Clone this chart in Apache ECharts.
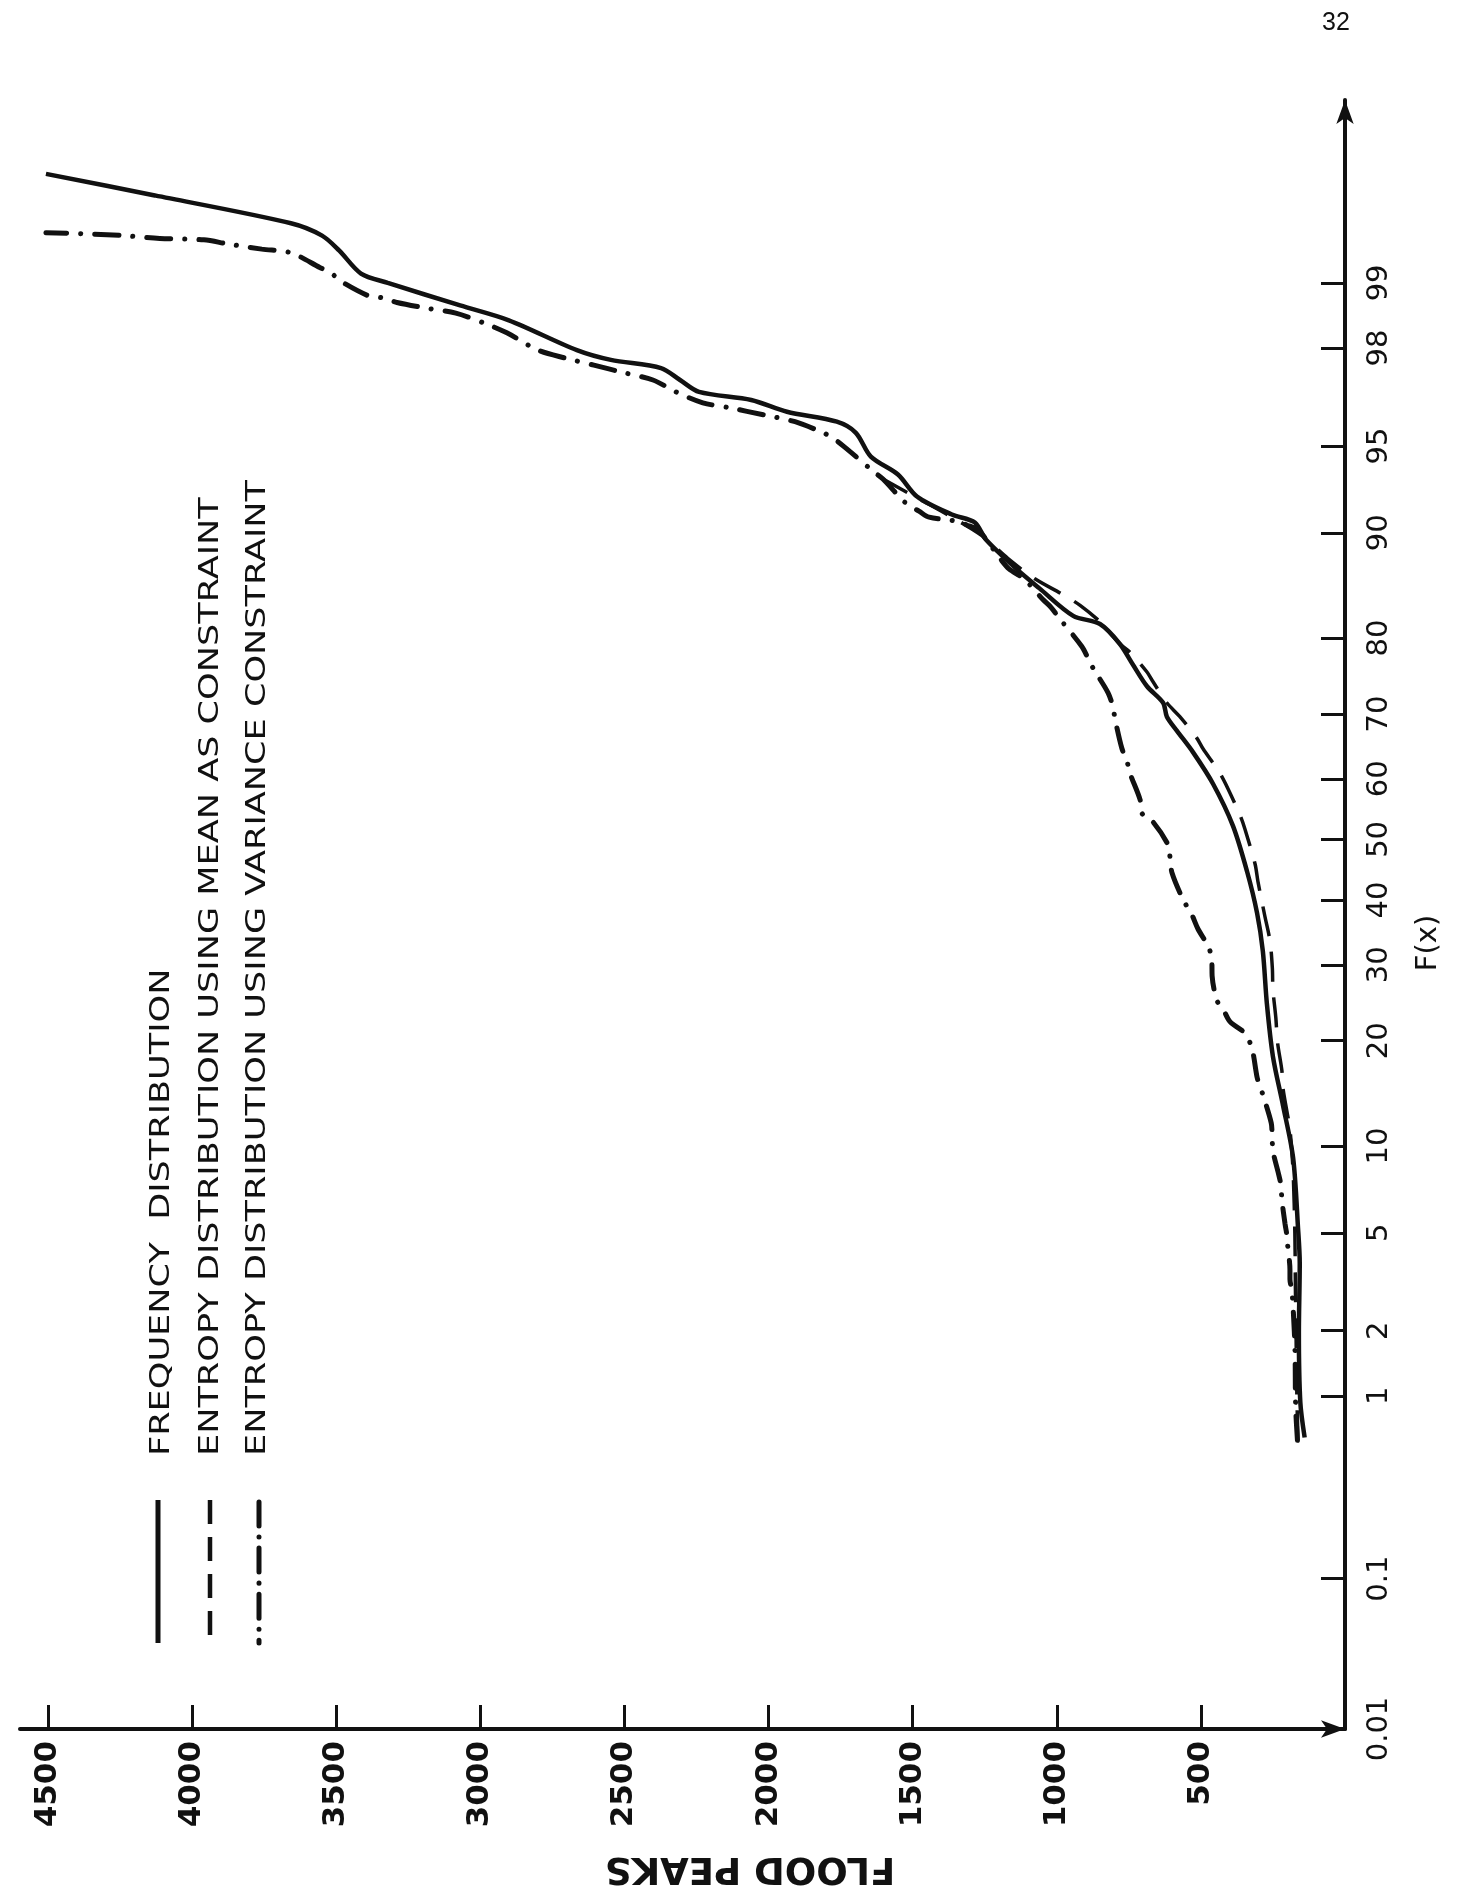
<!DOCTYPE html>
<html>
<head>
<meta charset="utf-8">
<title>Flood peaks vs F(x)</title>
<script src="https://cdn.jsdelivr.net/npm/echarts@6/dist/echarts.min.js"></script>
<style>
  html, body { margin: 0; padding: 0; background: #ffffff; }
  #chart { width: 1462px; height: 1894px; }
</style>
</head>
<body>
<div id="chart"></div>
<script>
// Probability-scale ticks for F(x), in percent
const probTicks = [0.01, 0.1, 1, 2, 5, 10, 20, 30, 40, 50, 60, 70, 80, 90, 95, 98, 99];
// Flood peak ticks
const peakTicks = [500, 1000, 1500, 2000, 2500, 3000, 3500, 4000, 4500];

// Frequency distribution: F(x) in percent and flood peak
const freqProb = [0.62, 0.93, 1.96, 3.83, 5.22, 9.16, 13.3, 18.2, 24.6, 32, 37.9, 44.7, 52.3, 59.2, 64.2, 67.5, 69.6, 71.6, 73.9, 76.7, 79.3, 81.6, 82.5, 85.3, 87.05, 89.5, 90.74, 91.28, 92.41, 93.64, 94.52, 95.54, 95.96, 96.31, 96.69, 96.93, 97.26, 97.56, 97.75, 97.96, 98.5, 98.72, 99.0, 99.1, 99.31, 99.42, 99.5, 99.645, 99.73];
const freqPeak = [140, 155, 160, 157, 163, 180, 215, 250, 271, 285, 305, 340, 389, 458, 527, 583, 618, 631, 687, 735, 781, 850, 943, 1060, 1138, 1246, 1284, 1364, 1485, 1551, 1645, 1697, 1763, 1936, 2060, 2241, 2307, 2373, 2547, 2665, 2901, 3070, 3321, 3414, 3490, 3549, 3657, 4129, 4507];

// Entropy distribution, mean as constraint
const meanProb = [0.6, 1.0, 2.0, 3.0, 5.0, 8.2, 11.3, 12.7, 14.9, 16.7, 19.8, 22.8, 26.5, 29.5, 33.5, 37.4, 43.0, 45.9, 51.7, 54.0, 58.4, 60.9, 64.8, 66.4, 69.6, 71.6, 74.5, 75.8, 78.3, 79.3, 81.0, 81.6, 83.6, 84.7, 86.2, 88.0, 89.8, 91.1, 92.2, 93.4];
const meanPeak = [163, 167, 170, 172, 174, 180, 191, 201, 215, 219, 234, 240, 250, 252, 260, 278, 302, 312, 347, 364, 406, 434, 493, 514, 573, 618, 666, 687, 746, 781, 826, 840, 919, 979, 1076, 1170, 1260, 1364, 1471, 1603];

// Entropy distribution, variance as constraint
const varProb = [0.6, 0.8, 1.0, 1.5, 2.0, 2.95, 3.3, 3.6, 4.5, 4.85, 5.4, 6.6, 7.4, 8.2, 9.65, 10.95, 11.8, 14.3, 15.1, 16.0, 18.6, 19.8, 21.1, 22.3, 23.9, 25.0, 28.4, 30.4, 32.5, 35.4, 37.6, 40.1, 44.4, 47.0, 49.1, 52.9, 54.3, 56.6, 60.9, 62.9, 64.8, 69.3, 71.0, 73.0, 76.3, 77.6, 79.0, 82.2, 83.4, 84.2, 86.2, 87.1, 87.9, 90.25, 90.5, 90.8, 91.1, 91.5, 92.0, 93.4, 93.74, 94.97, 95.38, 95.58, 95.96, 96.2, 96.44, 96.6, 96.93, 97.26, 97.46, 97.63, 97.79, 97.96, 98.29, 98.45, 98.61, 98.68, 98.76, 98.82, 98.85, 99.03, 99.1, 99.16, 99.29, 99.32, 99.36, 99.39, 99.4, 99.42, 99.43, 99.44];
const varPeak = [165, 170, 172, 173, 176, 184, 191, 191, 199, 201, 208, 219, 222, 232, 250, 253, 256, 285, 295, 305, 319, 330, 354, 399, 423, 444, 461, 462, 472, 510, 531, 562, 600, 607, 614, 666, 704, 711, 746, 757, 774, 798, 805, 822, 874, 892, 913, 990, 1020, 1048, 1114, 1166, 1194, 1273, 1305, 1339, 1443, 1478, 1523, 1603, 1631, 1738, 1783, 1818, 1908, 2016, 2134, 2228, 2321, 2401, 2509, 2606, 2706, 2800, 2908, 2984, 3085, 3185, 3289, 3338, 3390, 3490, 3515, 3557, 3657, 3758, 3876, 3959, 4112, 4239, 4339, 4507];

const legendNames = [
  'FREQUENCY  DISTRIBUTION',
  'ENTROPY DISTRIBUTION USING MEAN AS CONSTRAINT',
  'ENTROPY DISTRIBUTION USING VARIANCE CONSTRAINT'
];

// Inverse of the standard normal CDF (Acklam's rational approximation),
// used to lay out the normal-probability axis.
function probit(p) {
  const a = [-3.969683028665376e+01, 2.209460984245205e+02, -2.759285104469687e+02, 1.383577518672690e+02, -3.066479806614716e+01, 2.506628277459239e+00];
  const b = [-5.447609879822406e+01, 1.615858368580409e+02, -1.556989798598866e+02, 6.680131188771972e+01, -1.328068155288572e+01];
  const c = [-7.784894002430293e-03, -3.223964580411365e-01, -2.400758277161838e+00, -2.549671324354319e+00, 4.374664141464968e+00, 2.938163982698783e+00];
  const d = [7.784695709041462e-03, 3.224671290700398e-01, 2.445134137142996e+00, 3.754408661907416e+00];
  const pl = 0.02425, ph = 1 - pl;
  let q, r;
  if (p < pl) {
    q = Math.sqrt(-2 * Math.log(p));
    return (((((c[0] * q + c[1]) * q + c[2]) * q + c[3]) * q + c[4]) * q + c[5]) /
      ((((d[0] * q + d[1]) * q + d[2]) * q + d[3]) * q + 1);
  }
  if (p <= ph) {
    q = p - 0.5; r = q * q;
    return (((((a[0] * r + a[1]) * r + a[2]) * r + a[3]) * r + a[4]) * r + a[5]) * q /
      (((((b[0] * r + b[1]) * r + b[2]) * r + b[3]) * r + b[4]) * r + 1);
  }
  q = Math.sqrt(-2 * Math.log(1 - p));
  return -(((((c[0] * q + c[1]) * q + c[2]) * q + c[3]) * q + c[4]) * q + c[5]) /
    ((((d[0] * q + d[1]) * q + d[2]) * q + d[3]) * q + 1);
}

const toZ = pct => probit(pct / 100);
const pairs = (probs, peaks) => probs.map((p, i) => [peaks[i], toZ(p)]);
const probTickZ = probTicks.map(toZ);
function probLabel(z) {
  for (let i = 0; i < probTickZ.length; i++) {
    if (Math.abs(probTickZ[i] - z) < 1e-6) return String(probTicks[i]);
  }
  return '';
}

const INK = '#111111';
const chart = echarts.init(document.getElementById('chart'), null, { renderer: 'canvas' });

chart.setOption({
  backgroundColor: '#ffffff',
  animation: false,
  grid: { left: 20, right: 117, top: 100, bottom: 165, containLabel: false, outerBoundsMode: 'none' },
  xAxis: {
    type: 'value',
    inverse: true,
    position: 'bottom',
    min: 0,
    max: 4597,
    splitLine: { show: false },
    axisLine: { onZero: false, lineStyle: { color: INK, width: 4 }, symbol: ['none', 'arrow'], symbolSize: [13, 24] },
    axisTick: { inside: true, length: 24, customValues: peakTicks, lineStyle: { color: INK, width: 3 } },
    axisLabel: {
      customValues: peakTicks, rotate: 90, margin: 12,
      formatter: v => String(v),
      color: INK, fontFamily: 'DejaVu Sans', fontWeight: 'bold', fontSize: 31
    }
  },
  yAxis: {
    type: 'value',
    position: 'right',
    min: toZ(probTicks[0]),
    max: 3.091,
    splitLine: { show: false },
    axisLine: { onZero: false, lineStyle: { color: INK, width: 4 }, symbol: ['none', 'arrow'], symbolSize: [13, 24] },
    axisTick: { inside: true, length: 24, customValues: probTickZ, lineStyle: { color: INK, width: 3 } },
    axisLabel: {
      customValues: probTickZ, rotate: 90, margin: 20,
      formatter: v => probLabel(v),
      color: INK, fontFamily: 'DejaVu Sans', fontSize: 29
    }
  },
  series: [
    {
      name: legendNames[0], type: 'line', symbol: 'none', smooth: 0.3,
      lineStyle: { color: INK, width: 4.5, type: 'solid' },
      data: pairs(freqProb, freqPeak)
    },
    {
      name: legendNames[1], type: 'line', symbol: 'none', smooth: 0.3,
      lineStyle: { color: INK, width: 3.5, type: [30, 16], cap: 'butt' },
      data: pairs(meanProb, meanPeak)
    },
    {
      name: legendNames[2], type: 'line', symbol: 'none', smooth: 0.3,
      lineStyle: { color: INK, width: 5, type: [24, 14, 0.1, 14], cap: 'round' },
      data: pairs(varProb, varPeak)
    }
  ],
  graphic: [
    // legend keys
    { type: 'line', shape: { x1: 158, y1: 1500, x2: 158, y2: 1643 }, style: { stroke: INK, lineWidth: 5 } },
    { type: 'line', shape: { x1: 210, y1: 1500, x2: 210, y2: 1643 }, style: { stroke: INK, lineWidth: 4.5, lineDash: [24, 13] } },
    { type: 'line', shape: { x1: 259, y1: 1502, x2: 259, y2: 1643 }, style: { stroke: INK, lineWidth: 5, lineDash: [24, 11, 0.1, 11], lineCap: 'round' } },
    // legend texts
    { type: 'text', x: 162, y: 1456, rotation: Math.PI / 2, scaleX: 1.3,
      style: { text: legendNames[0], font: '27px "DejaVu Sans"', fill: INK, align: 'left', verticalAlign: 'middle' } },
    { type: 'text', x: 211, y: 1456, rotation: Math.PI / 2, scaleX: 1.3,
      style: { text: legendNames[1], font: '27px "DejaVu Sans"', fill: INK, align: 'left', verticalAlign: 'middle' } },
    { type: 'text', x: 258, y: 1456, rotation: Math.PI / 2, scaleX: 1.3,
      style: { text: legendNames[2], font: '27px "DejaVu Sans"', fill: INK, align: 'left', verticalAlign: 'middle' } },
    // axis titles
    { type: 'text', x: 1428, y: 943, rotation: Math.PI / 2,
      style: { text: 'F(x)', font: '29px "DejaVu Sans"', fill: INK, align: 'center', verticalAlign: 'middle' } },
    { type: 'text', x: 750, y: 1868, rotation: Math.PI,
      style: { text: 'FLOOD PEAKS', font: 'bold 37px "DejaVu Sans"', fill: INK, align: 'center', verticalAlign: 'middle' } },
    // page number
    { type: 'text', x: 1336, y: 23,
      style: { text: '32', font: '25px "Liberation Sans"', fill: INK, align: 'center', verticalAlign: 'middle' } }
  ]
});
</script>
</body>
</html>
